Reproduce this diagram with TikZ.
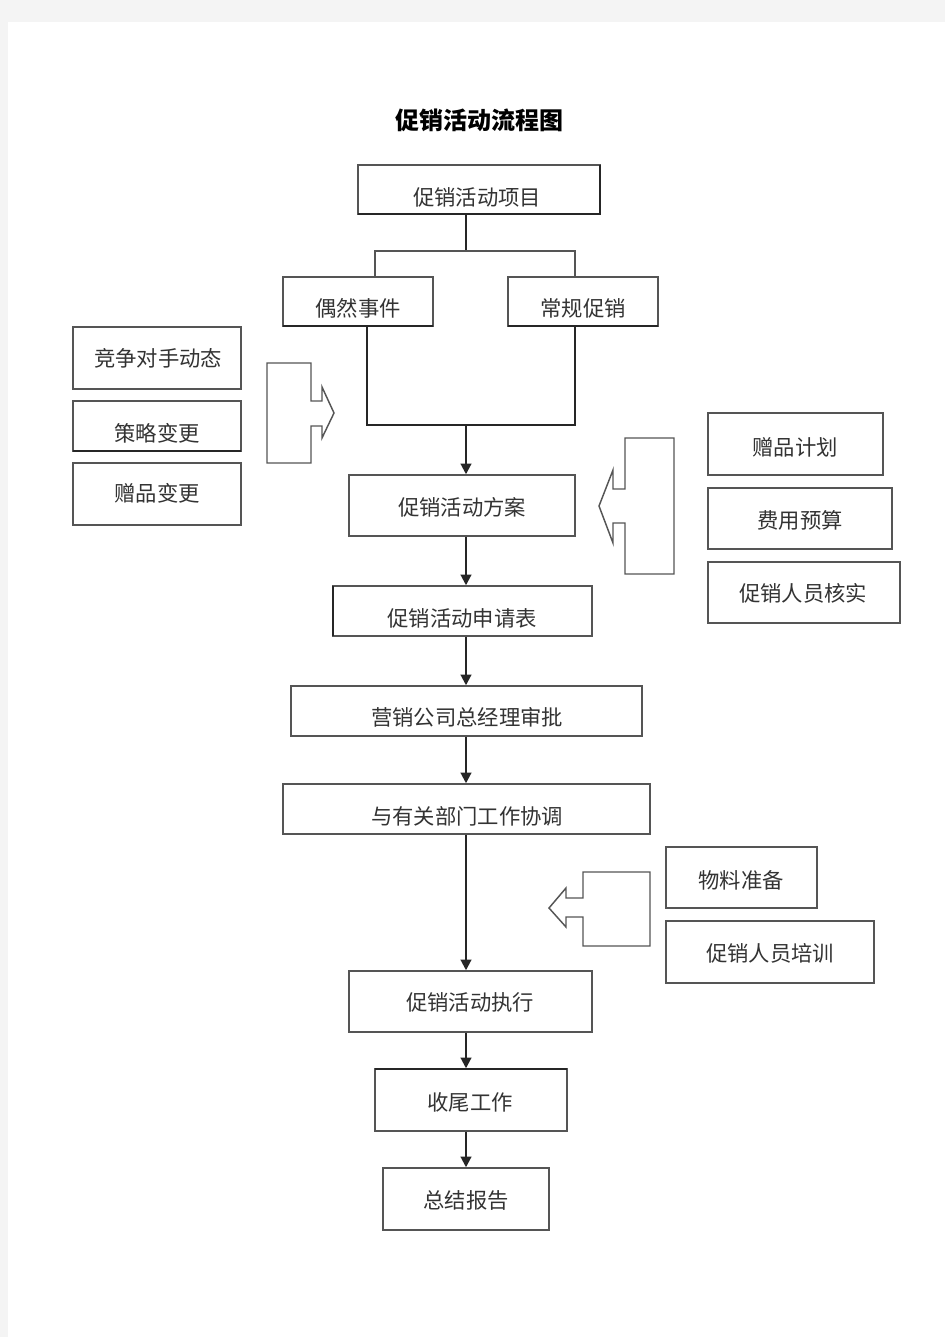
\documentclass[tikz,border=0pt]{standalone}
\usepackage{fontspec}
\newfontfamily\cjk{Noto Sans CJK SC}
\usetikzlibrary{arrows.meta,fit}
\definecolor{pagegray}{HTML}{F4F4F4}
\definecolor{boxline}{HTML}{555555}
\begin{document}
\begin{tikzpicture}[x=0.75pt,y=-0.75pt,
  box/.style={draw=boxline, line width=1.1pt, inner sep=0pt, rectangle},
  txt/.style={font=\cjk\fontsize{16}{18}\selectfont, text=black!80, inner sep=0pt},
  conn/.style={draw=black!85, line width=1.5pt},
  arr/.style={conn, -{Triangle[width=8pt,length=8pt]}},
  bigarrow/.style={draw=boxline, line width=1.1pt, line join=miter}
]
% page
\fill[pagegray] (0,0) rectangle (945,1337);
\fill[white] (8,22) rectangle (945,1337);
\useasboundingbox (0,0) rectangle (945,1337);

% title
\node[font=\cjk\bfseries\fontsize{18}{20}\selectfont, inner sep=0pt] (title) at (479,120) {促销活动流程图};

% main boxes
\node[box, fit={(358,165) (600,214)}] (xm) {};
\node[txt] (xmt) at (477,197) {促销活动项目};
\draw[line width=1.6pt, black!85] (600,165) -- (600,214) -- (358,214);

\node[box, fit={(283,277) (433,326)}] (oe) {};
\node[txt] (oet) at (358,308) {偶然事件};
\draw[line width=1.6pt, black!85] (283,326) -- (433,326);

\node[box, fit={(508,277) (658,326)}] (cg) {};
\node[txt] (cgt) at (583,308) {常规促销};
\draw[line width=1.6pt, black!85] (508,326) -- (658,326);

\node[box, fit={(349,475) (575,536)}] (fa) {};
\node[txt] (fat) at (462,507) {促销活动方案};

\node[box, fit={(333,586) (592,636)}] (sq) {};
\node[txt] (sqt) at (462,618) {促销活动申请表};
\draw[line width=1.6pt, black!85] (333,586) -- (333,636);

\node[box, fit={(291,686) (642,736)}] (sp) {};
\node[txt] (spt) at (467,717) {营销公司总经理审批};

\node[box, fit={(283,784) (650,834)}] (xt) {};
\node[txt] (xtt) at (467,816) {与有关部门工作协调};

\node[box, fit={(349,971) (592,1032)}] (zx) {};
\node[txt] (zxt) at (470,1002) {促销活动执行};

\node[box, fit={(375,1069) (567,1131)}] (sw) {};
\node[txt] (swt) at (470,1102) {收尾工作};
\draw[line width=1.6pt, black!85] (375,1069) -- (567,1069);

\node[box, fit={(383,1168) (549,1230)}] (zj) {};
\node[txt] (zjt) at (466,1200) {总结报告};

% left side boxes
\node[box, fit={(73,327) (241,389)}] (l1) {};
\node[txt] (l1t) at (158,358) {竞争对手动态};
\node[box, fit={(73,401) (241,451)}] (l2) {};
\node[txt] (l2t) at (157,433) {策略变更};
\draw[line width=1.6pt, black!85] (73,451) -- (241,451);
\node[box, fit={(73,463) (241,525)}] (l3) {};
\node[txt] (l3t) at (157,493) {赠品变更};

% right side boxes
\node[box, fit={(708,413) (883,475)}] (r1) {};
\node[txt] (r1t) at (795,447) {赠品计划};
\node[box, fit={(708,488) (892,549)}] (r2) {};
\node[txt] (r2t) at (800,520) {费用预算};
\node[box, fit={(708,562) (900,623)}] (r3) {};
\node[txt] (r3t) at (803,593) {促销人员核实};

\node[box, fit={(666,847) (817,908)}] (m1) {};
\node[txt] (m1t) at (741,880) {物料准备};
\node[box, fit={(666,921) (874,983)}] (m2) {};
\node[txt] (m2t) at (770,953) {促销人员培训};

% big block arrows
\draw[bigarrow] (267,363) -- (311,363) -- (311,401) -- (322,401) -- (322,387)
  -- (334,413) -- (322,438) -- (322,426) -- (311,426) -- (311,463) -- (267,463) -- cycle;
\draw[bigarrow] (674,438) -- (625,438) -- (625,489) -- (613,489) -- (613,470)
  -- (599,506) -- (613,543) -- (613,523) -- (625,523) -- (625,574) -- (674,574) -- cycle;
\draw[bigarrow] (650,872) -- (583,872) -- (583,898) -- (566,898) -- (566,888)
  -- (549,908) -- (566,927) -- (566,917) -- (583,917) -- (583,946) -- (650,946) -- cycle;

% connectors
\coordinate (j1) at (466,251);
\coordinate (oeIn) at (375,277);
\coordinate (cgIn) at (575,277);
\coordinate (oeOut) at (367,326);
\coordinate (cgOut) at (575,326);
\coordinate (j2) at (466,425);

\draw[conn] (xm.south -| j1) -- (j1);
\draw[draw=boxline, line width=1.1pt] (oeIn) |- (j1) -| (cgIn);
\draw[draw=black!85, line width=1.1pt] (oeOut) |- (j2) -| (cgOut);
\draw[arr] (j2) -- (fa.north -| j2);
\draw[arr] (fa.south -| j2) -- (sq.north -| j2);
\draw[arr] (sq.south -| j2) -- (sp.north -| j2);
\draw[arr] (sp.south -| j2) -- (xt.north -| j2);
\draw[arr] (xt.south -| j2) -- (zx.north -| j2);
\draw[arr] (zx.south -| j2) -- (sw.north -| j2);
\draw[arr] (sw.south -| j2) -- (zj.north -| j2);
\end{tikzpicture}
\end{document}
